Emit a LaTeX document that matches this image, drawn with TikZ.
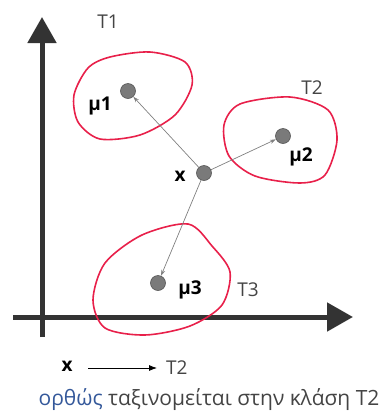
\documentclass[tikz,border=0pt]{standalone}
\usepackage{fontspec}
\setmainfont{Open Sans}
\usepackage{xcolor}
\usetikzlibrary{arrows.meta,positioning}
\definecolor{axisgray}{HTML}{333333}
\definecolor{ringred}{HTML}{E8204A}
\definecolor{ptgray}{HTML}{7A7A7A}
\definecolor{txtgray}{HTML}{444444}
\definecolor{okblue}{HTML}{34589A}
\begin{document}
\begin{tikzpicture}[x=1pt, y=-1pt, font=\fontsize{19}{22}\selectfont,
  axis/.style={line width=5pt, draw=axisgray, -{Triangle[width=28pt,length=26pt]}},
  ring/.style={draw=ringred, line width=1.6pt},
  pt/.style={circle, fill=ptgray, draw=ptgray!70!black, line width=0.6pt, minimum size=15pt, inner sep=0pt},
  mu/.style={font=\fontsize{19}{22}\selectfont\bfseries, text=black, inner sep=1pt},
  cls/.style={text=txtgray, inner sep=1pt},
  arr/.style={-{Stealth[length=6pt,width=4pt]}, draw=gray, line width=0.7pt}]
\useasboundingbox (0,0) rectangle (385,413);
% axes
\draw[axis] (42,337) -- (42,17);
\draw[axis] (13,317) -- (353,317);
% clusters
\draw[ring] plot[smooth cycle] coordinates {(110,57) (150,52) (185,62) (192,85) (175,115) (140,135) (100,139) (78,122) (74,95) (88,68)};
\draw[ring] plot[smooth cycle] coordinates {(240,104) (290,97) (328,110) (337,140) (325,175) (300,183) (255,176) (229,156) (224,125)};
\draw[ring] plot[smooth cycle] coordinates {(188,224) (212,246) (230,272) (222,305) (190,326) (145,335) (105,328) (93,300) (105,263) (142,235)};
% centroids and sample
\node[pt] (m1) at (128,91) {};
\node[pt] (m2) at (283,136) {};
\node[pt] (m3) at (158,283) {};
\node[pt] (xs) at (204,173) {};
\node[mu] (m1lbl) at (100,106) {μ1};
\node[mu] (m2lbl) at (301,157) {μ2};
\node[mu] (m3lbl) at (190,290) {μ3};
\node[mu] (xlbl) at (180,176) {x};
\node[cls] (t1) at (108,22) {T1};
\node[cls] (t2) at (312,88) {T2};
\node[cls] (t3) at (248,290) {T3};
\draw[arr] (xs) -- (m1);
\draw[arr] (xs) -- (m2);
\draw[arr] (xs) -- (m3);
% result
\node[mu] (xres) at (67,366) {x};
\coordinate (rs) at (88,368);
\coordinate (re) at (157,368);
\node[cls, right=8pt of re] (tres) {T2};
\draw[-{Latex[length=8pt,width=6pt]}, line width=0.8pt] (rs) -- (re);
\node[text=txtgray, font=\fontsize{21}{24}\selectfont] (note) at (209,400) {\textcolor{okblue}{ορθώς} ταξινομείται στην κλάση T2};
\end{tikzpicture}
\end{document}
